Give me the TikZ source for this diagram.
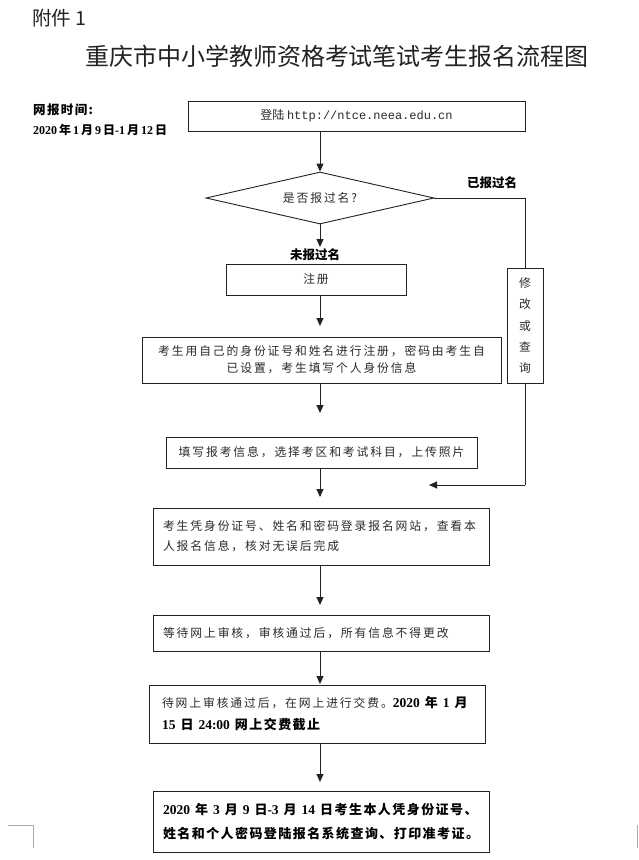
\documentclass[tikz,border=0pt]{standalone}
\usepackage{fontspec}
\usetikzlibrary{shapes.geometric,arrows.meta}
\setmainfont{Noto Sans CJK SC}
\newfontfamily\cjk{Noto Sans CJK SC}
\newfontfamily\cjksp[LetterSpace=16]{Noto Sans CJK SC}
\newfontfamily\cjkbsp[LetterSpace=11]{Noto Sans CJK SC}
\newfontfamily\urlfont{Liberation Mono}
\newfontfamily\numfont{Liberation Serif}
\newcommand\dgt[1]{{\numfont\bfseries\fontsize{13.5}{14}\selectfont #1}}
\newcommand\sdgt[1]{{\numfont\bfseries\fontsize{12}{14}\selectfont #1}}
\newcommand\gap{\hspace{5pt}}
\definecolor{ink}{HTML}{222222}
\definecolor{txt}{HTML}{2A2A2A}
\definecolor{cornergray}{HTML}{AAAAAA}
\tikzset{
  box/.style={draw=ink, line width=0.9pt, inner sep=0pt, text=txt},
  arr/.style={draw=ink, line width=0.9pt, -{Triangle[length=8pt,width=7pt]}},
  conn/.style={draw=ink, line width=0.9pt},
  body/.style={font=\cjksp\fontsize{11.8}{17}\selectfont},
  lbl/.style={font=\cjk\bfseries\fontsize{12.5}{14}\selectfont, text=black, inner sep=0pt},
  cornermark/.style={draw=cornergray, line width=0.8pt},
}
\begin{document}
\begin{tikzpicture}[x=1pt,y=-1pt]
\useasboundingbox (0,0) rectangle (639,860);
\fill[white] (0,0) rectangle (639,860);

% header
\node[anchor=west, inner sep=0pt, font=\cjk\fontsize{19.5}{22}\selectfont, text=ink] (att) at (32,18) {附件 1};
\node[inner sep=0pt, font=\cjk\fontsize{24}{28}\selectfont, text=ink] (title) at (337,56) {重庆市中小学教师资格考试笔试考生报名流程图};
\node[anchor=west, inner sep=0pt, font=\cjkbsp\bfseries\fontsize{12.5}{14}\selectfont] (wb) at (33,110) {网报时间:};
\node[anchor=west, inner sep=0pt, font=\cjk\bfseries\fontsize{12}{14}\selectfont] (wbd) at (33,130)
  {\sdgt{2020}\,年\,\sdgt{1}\,月\,\sdgt{9}\,日\sdgt{-1}\,月\,\sdgt{12}\,日};

% boxes
\node[box, minimum width=337pt, minimum height=30pt] (b1) at (356.5,116)
  {\cjk\fontsize{12}{14}\selectfont 登陆 {\urlfont\fontsize{12}{14}\selectfont http://ntce.neea.edu.cn}};
\node[box, diamond, aspect=4.4, minimum width=228pt, minimum height=52pt] (dia) at (320,198)
  {\cjksp\fontsize{11.8}{14}\selectfont 是否报过名?};
\node[box, minimum width=180pt, minimum height=31pt, body] (reg) at (316,279.5) {注册};
\node[box, minimum width=359pt, minimum height=46pt, body, align=center] (b3) at (321.5,360)
  {考生用自己的身份证号和姓名进行注册，密码由考生自\\已设置，考生填写个人身份信息};
\node[box, minimum width=36pt, minimum height=115pt, align=center, font=\cjk\fontsize{11.8}{21.3}\selectfont] (side) at (525,325.5)
  {修\\改\\或\\查\\询};
\node[box, minimum width=311pt, minimum height=31pt, body] (b4) at (321.5,452.5)
  {填写报考信息，选择考区和考试科目，上传照片};
\node[box, minimum width=336pt, minimum height=57pt, text width=316pt, inner xsep=10pt, align=left,
  font=\cjksp\fontsize{11.8}{20}\selectfont] (b5) at (321,536.5)
  {考生凭身份证号、姓名和密码登录报名网站，查看本\\人报名信息，核对无误后完成};
\node[box, minimum width=336pt, minimum height=36pt, text width=316pt, inner xsep=10pt, align=left, body] (b6) at (321,633)
  {等待网上审核，审核通过后，所有信息不得更改};
\node[box, minimum width=336pt, minimum height=58pt, text width=310pt, inner xsep=13pt, align=left,
  font=\cjksp\fontsize{11.8}{22}\selectfont] (b7) at (317,714)
  {待网上审核通过后，在网上进行交费。{\cjkbsp\bfseries\fontsize{13}{22}\selectfont\color{black}\dgt{2020}\gap 年\gap\dgt{1}\gap 月}\\
   {\cjkbsp\bfseries\fontsize{13}{22}\selectfont\color{black}\dgt{15}\gap 日\gap\dgt{24:00}\gap 网上交费截止}};
\node[box, minimum width=336pt, minimum height=61pt, text width=316pt, inner xsep=10pt, align=left,
  font=\cjkbsp\bfseries\fontsize{13}{24}\selectfont, text=black] (b8) at (321,821.5)
  {\dgt{2020}\gap 年\gap\dgt{3}\gap 月\gap\dgt{9}\gap 日\dgt{-3}\gap 月\gap\dgt{14}\gap 日考生本人凭身份证号、\\姓名和个人密码登陆报名系统查询、打印准考证。};

% labels
\node[lbl] (yes) at (492,183) {已报过名};
\node[lbl] (no) at (315,255) {未报过名};

% arrow end points
\coordinate (t1) at (320,247);
\coordinate (t2) at (320,326);
\coordinate (t3) at (320,413);
\coordinate (t4) at (320,497);
\coordinate (t5) at (320,605);
\coordinate (t6) at (320,684);
\coordinate (t7) at (320,782);
\coordinate (sb) at (525,485);
\coordinate (t8) at (429,485);

% connectors
\draw[arr] (b1.south -| dia.north) -- (dia.north);
\draw[conn] (dia.east) -- (dia.east -| side.north) -- (side.north);
\draw[arr] (dia.south) -- (t1);
\draw[arr] (reg.south -| t2) -- (t2);
\draw[arr] (b3.south -| t3) -- (t3);
\draw[arr] (b4.south -| t4) -- (t4);
\draw[arr] (b5.south -| t5) -- (t5);
\draw[arr] (b6.south -| t6) -- (t6);
\draw[arr] (b7.south -| t7) -- (t7);
\draw[conn] (side.south) -- (sb);
\draw[arr] (sb) -- (t8);

% page corner marks
\coordinate (cm1) at (8,825);
\coordinate (cm2) at (33,825);
\coordinate (cm3) at (33,848);
\coordinate (cm4) at (637,825);
\coordinate (cm5) at (637,848);
\draw[cornermark] (cm1) -- (cm2) -- (cm3);
\draw[cornermark] (cm4) -- (cm5);
\end{tikzpicture}
\end{document}
